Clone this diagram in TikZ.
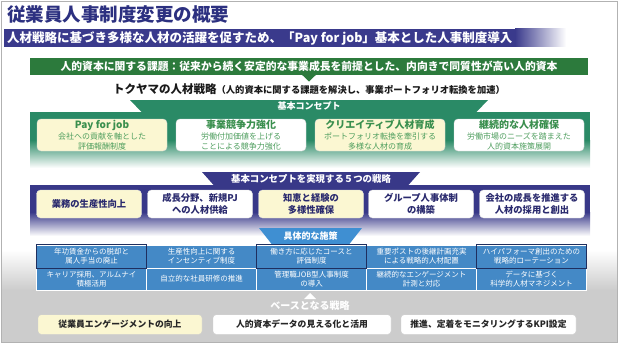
\documentclass[tikz,border=0pt]{standalone}
\usepackage{fontspec}
\setmainfont{Noto Sans CJK JP}
\definecolor{navyT}{HTML}{2C3080}
\definecolor{purp}{HTML}{3A3A8C}
\definecolor{gban}{HTML}{2C7A3C}
\definecolor{tealc}{HTML}{2A8A66}
\definecolor{ctext}{HTML}{3A8F4E}
\definecolor{csub}{HTML}{4E9E5E}
\definecolor{snavy}{HTML}{383888}
\definecolor{stext}{HTML}{2A2A6E}
\definecolor{mblue}{HTML}{4489C6}
\definecolor{mtab}{HTML}{3F8FD2}
\definecolor{mdark}{HTML}{1F2F5F}
\definecolor{ylw}{HTML}{FBF7D2}
\tikzset{
  cbox/.style={draw=black!15, rounded corners=4pt, minimum width=130, minimum height=32, inner sep=0pt, align=center, fill=white},
  sbox/.style={draw=black!15, rounded corners=4pt, minimum width=105, minimum height=28, inner sep=0pt, align=center, fill=white, text=stext, font=\bfseries\fontsize{9.3}{11.5}\selectfont},
  mcell/.style={fill=mblue, draw=white, line width=0.8pt, minimum width=110, inner sep=0pt, text=white, align=center, font=\fontsize{7.5}{9}\selectfont},
  bbox/.style={draw=black!20, rounded corners=3pt, minimum height=19.5, inner sep=0pt, fill=white, text=black!85, font=\bfseries\fontsize{8.8}{10}\selectfont},
  tabtext/.style={text=white, font=\bfseries\fontsize{9}{10}\selectfont, inner sep=0pt}
}
\begin{document}
\begin{tikzpicture}[x=1pt,y=-1pt]
\useasboundingbox (0,0) rectangle (620,345);
% bottom gray background
\shade[top color=white, bottom color=black!20] (2,250) rectangle (617,290);
\fill[black!20] (2,290) rectangle (617,342);
% frame
\draw[black!30, line width=1pt] (1.5,1.5) rectangle (617.5,342.5);

% title
\node[anchor=west, inner sep=0pt, text=navyT, font=\bfseries\fontsize{18.5}{20}\selectfont] (title) at (7,15) {従業員人事制度変更の概要};

% purple banner
\fill[purp] (4,29) rectangle (515,47);
\shade[left color=purp, right color=white] (515,29) rectangle (566,47);
\node[anchor=west, inner sep=0pt, text=white, font=\bfseries\fontsize{12.5}{14}\selectfont] (ban) at (7,38) {人材戦略に基づき多様な人材の活躍を促すため、「Pay for job」基本とした人事制度導入};

% green banner
\node[fill=gban, minimum width=558, minimum height=17, inner sep=0pt, text=white, font=\bfseries\fontsize{10.8}{12}\selectfont] (gb) at (309,66.5) {人的資本に関する課題：従来から続く安定的な事業成長を前提とした、内向きで同質性が高い人的資本};
\fill[gban] (302,74.8) -- (316,74.8) -- (309,81.5) -- cycle;

% strategy title
\node[inner sep=0pt, text=black!90, font=\bfseries] (st) at (309,89) {{\fontsize{11.5}{13}\selectfont トクヤマの人材戦略}{\fontsize{9.3}{11}\selectfont （人的資本に関する課題を解決し、事業ポートフォリオ転換を加速）}};

% concept band
\fill[tealc] (30,112) rectangle (590,140);
\shade[top color=tealc, bottom color=white] (30,140) rectangle (590,168);
\fill[tealc] (130,100) -- (488,100) -- (476,112.5) -- (142,112.5) -- cycle;
\node[tabtext] (ctab) at (309,106.5) {基本コンセプト};

\node[cbox, fill=ylw] (c1) at (102,135) {{\bfseries\color{ctext}\fontsize{10}{12}\selectfont Pay for job}\\[-1pt]{\color{csub}\fontsize{8}{9.5}\selectfont 会社への貢献を軸とした}\\[-2pt]{\color{csub}\fontsize{8}{9.5}\selectfont 評価報酬制度}};
\node[cbox] (c2) at (241,135) {{\bfseries\color{ctext}\fontsize{10}{12}\selectfont 事業競争力強化}\\[-1pt]{\color{csub}\fontsize{8}{9.5}\selectfont 労働付加価値を上げる}\\[-2pt]{\color{csub}\fontsize{8}{9.5}\selectfont ことによる競争力強化}};
\node[cbox, fill=ylw] (c3) at (380,135) {{\bfseries\color{ctext}\fontsize{10}{12}\selectfont クリエイティブ人材育成}\\[-1pt]{\color{csub}\fontsize{8}{9.5}\selectfont ポートフォリオ転換を牽引する}\\[-2pt]{\color{csub}\fontsize{8}{9.5}\selectfont 多様な人材の育成}};
\node[cbox] (c4) at (519,135) {{\bfseries\color{ctext}\fontsize{10}{12}\selectfont 継続的な人材確保}\\[-1pt]{\color{csub}\fontsize{8}{9.5}\selectfont 労働市場のニーズを踏まえた}\\[-2pt]{\color{csub}\fontsize{8}{9.5}\selectfont 人的資本施策展開}};

% five strategies band
\fill[snavy] (30,185) rectangle (590,212);
\shade[top color=snavy, bottom color=white] (30,212) rectangle (590,236);
\fill[snavy] (202,172) -- (420,172) -- (408,185.5) -- (214,185.5) -- cycle;
\node[tabtext, font=\bfseries\fontsize{9.4}{10}\selectfont] (stab) at (311,179) {基本コンセプトを実現する５つの戦略};

\node[sbox, fill=ylw] (s1) at (89,204) {業務の生産性向上};
\node[sbox] (s2) at (200,204) {成長分野、新規PJ\\への人材供給};
\node[sbox, fill=ylw] (s3) at (311,204) {知恵と経験の\\多様性確保};
\node[sbox] (s4) at (421,204) {グループ人事体制\\の構築};
\node[sbox] (s5) at (532,204) {会社の成長を推進する\\人材の採用と創出};

% specific measures
\fill[mtab] (259,228) -- (362,228) -- (349,244.5) -- (272,244.5) -- cycle;
\node[tabtext] (mtabn) at (310.5,236) {具体的な施策};

\begin{scope}[every node/.style={mcell, minimum height=23}]
\node (m11) at (91.5,256.5) {年功賃金からの脱却と\\属人手当の廃止};
\node (m12) at (201.5,256.5) {生産性向上に関する\\インセンティブ制度};
\node (m13) at (311.5,256.5) {働き方に応じたコースと\\評価制度};
\node (m14) at (421.5,256.5) {重要ポストの後継計画充実\\による戦略的人材配置};
\node (m15) at (531.5,256.5) {ハイパフォーマ創出のための\\戦略的ローテーション};
\end{scope}
\begin{scope}[every node/.style={mcell, minimum height=22}]
\node (m21) at (91.5,279) {キャリア採用、アルムナイ\\積極活用};
\node (m22) at (201.5,279) {自立的な社員研修の推進};
\node (m23) at (311.5,279) {管理職JOB型人事制度\\の導入};
\node (m24) at (421.5,279) {継続的なエンゲージメント\\計測と対応};
\node (m25) at (531.5,279) {データに基づく\\科学的人材マネジメント};
\end{scope}
\foreach \c in {m11,m13,m15}{
  \draw[mdark, line width=1pt] (\c.south west) rectangle (\c.north east);
}

% base strategies
\fill[white] (304,299) -- (316,299) -- (310,293) -- cycle;
\node[text=white, inner sep=0pt, font=\bfseries\fontsize{10}{11}\selectfont] (base) at (310,306) {ベースとなる戦略};
\node[bbox, fill=ylw, minimum width=164] (b1) at (120,324.5) {従業員エンゲージメントの向上};
\node[bbox, minimum width=178] (b2) at (302,324.5) {人的資本データの見える化と活用};
\node[bbox, minimum width=175] (b3) at (488.5,324.5) {推進、定着をモニタリングするKPI設定};
\end{tikzpicture}
\end{document}
